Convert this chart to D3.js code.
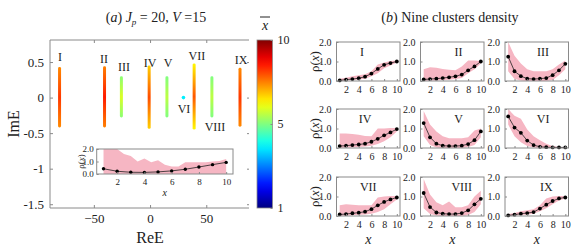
<!DOCTYPE html>
<html><head><meta charset="utf-8">
<script src="https://cdn.jsdelivr.net/npm/d3@7"></script>
<style>body{margin:0;background:#fff} svg text{font-family:"Liberation Serif","DejaVu Serif",serif !important;fill:#222}</style>
</head><body><svg id="c" width="581" height="248"></svg>
<script>
// ---------- Panel (a) data ----------
const clusterNames = ["I","II","III","IV","V","VI","VII","VIII","IX"];
const clusterRe     = [-80.5,-40.5,-25.5,-0.8,15,29.7,39.2,55,80];
const clusterImTop  = [0.43,0.44,0.30,0.45,0.30,0.025,0.48,0.30,0.42];
const clusterImBot  = [-0.42,-0.42,-0.28,-0.44,-0.28,-0.025,-0.45,-0.28,-0.41];
const clusterXbarMid = [8.2,8.5,5.9,8.0,5.6,3.6,7.9,5.6,8.2];
const clusterXbarEnd = [7.4,7.5,5.1,6.7,5.0,3.6,6.3,5.0,7.4];
const labelRe = [-80.1,-41,-23.2,0,16,30.2,41.7,57.8,80.9];
const labelIm = [0.571,0.543,0.43,0.487,0.487,-0.16,0.585,-0.414,0.529];
const reTicks = [-50,0,50];
const imTicks = [0.5,0,-0.5,-1,-1.5];
const cbTicks = [0,5,10];
const cbTickLabels = ["1","5","10"];

// inset (all clusters)
const insetX = [1,2,3,4,5,6,7,8,9,10];
const insetMean = [0.42,0.22,0.14,0.13,0.17,0.25,0.38,0.56,0.75,0.93];
const insetEnvX = [1,1.5,2,2.5,3,3.5,4,4.5,5,5.5,6,6.5,7,7.5,8,8.5,9,9.5,10];
const insetEnvHi = [2,2,2,1.6,1.45,1.0,1.25,0.95,1.1,0.75,0.6,0.6,0.95,0.95,0.95,0.95,1.0,1.05,1.2];

// ---------- Panel (b) data ----------
const xs = [1,2,3,4,5,6,7,8,9,10];
const meanI    = [0.03,0.07,0.1,0.14,0.22,0.38,0.62,0.83,0.92,1.0];
const meanII   = [0.08,0.1,0.12,0.15,0.19,0.24,0.33,0.55,0.75,1.0];
const meanIII  = [1.25,0.5,0.25,0.12,0.1,0.12,0.15,0.3,0.55,0.88];
const meanIV   = [0.1,0.12,0.15,0.18,0.22,0.32,0.47,0.65,0.8,0.97];
const meanV    = [1.28,0.55,0.22,0.12,0.1,0.1,0.12,0.2,0.4,0.85];
const meanVI   = [1.62,1.05,0.78,0.38,0.15,0.06,0.04,0.03,0.03,0.03];
const meanVII  = [0.08,0.1,0.14,0.17,0.22,0.35,0.55,0.72,0.85,0.95];
const meanVIII = [1.18,0.46,0.18,0.12,0.1,0.1,0.15,0.29,0.6,0.88];
const meanIX   = [0.03,0.07,0.12,0.15,0.2,0.38,0.58,0.77,0.9,0.95];

const hiI    = [0.12,0.17,0.25,0.3,0.35,0.5,0.85,0.95,1.02,1.05];
const loI    = [0,0.02,0.05,0.08,0.12,0.25,0.4,0.65,0.8,0.95];
const hiII   = [0.6,0.7,0.68,0.62,0.58,0.55,0.75,1.05,1.05,1.02];
const loII   = [0,0.02,0.03,0.05,0.07,0.1,0.15,0.4,0.6,0.9];
const hiIII  = [2.0,1.3,0.9,0.6,0.5,0.5,0.5,0.6,0.85,1.05];
const loIII  = [0.5,0.1,0.03,0,0,0,0,0.05,0.3,0.6];
const hiIV   = [0.75,0.75,0.72,0.68,0.62,0.6,1.0,1.0,1.02,1.02];
const loIV   = [0,0.02,0.03,0.05,0.08,0.12,0.2,0.35,0.55,0.85];
const hiV    = [1.9,1.2,0.85,0.6,0.5,0.5,0.5,0.55,0.9,1.0];
const loV    = [0.6,0.15,0.03,0,0,0,0,0.05,0.15,0.55];
const hiVI   = [2.0,1.65,1.5,0.95,0.6,0.4,0.22,0.1,0.05,0.04];
const loVI   = [1.2,0.6,0.3,0.1,0.02,0,0,0,0,0];
const hiVII  = [0.55,0.6,0.58,0.55,0.55,0.55,0.95,1.0,1.02,1.02];
const loVII  = [0,0.02,0.04,0.06,0.08,0.12,0.2,0.35,0.6,0.85];
const hiVIII = [1.9,1.1,0.7,0.55,0.75,0.45,0.45,0.55,1.0,1.3];
const loVIII = [0.4,0.1,0.02,0,0,0,0,0.05,0.2,0.6];
const hiIX   = [0.1,0.15,0.25,0.3,0.35,0.55,0.9,1.0,1.02,1.02];
const loIX   = [0,0.02,0.05,0.08,0.12,0.25,0.4,0.6,0.8,0.9];
const subLabelX = [4.5,6.5,6.5,5,6.5,6.5,5.5,7,7];
const smallXTicks = [2,4,6,8,10];
const smallYTicks = [0,1,2];

const means = [meanI,meanII,meanIII,meanIV,meanV,meanVI,meanVII,meanVIII,meanIX];
const his = [hiI,hiII,hiIII,hiIV,hiV,hiVI,hiVII,hiVIII,hiIX];
const los = [loI,loII,loIII,loIV,loV,loVI,loVII,loVIII,loIX];

// ---------- helpers ----------
const FONT = "Liberation Serif";
const svg = d3.select("#c");
const defs = svg.append("defs");
const axisCol = "#8a8a8a";
const pink = "#f6b6c3";
function jet(v){const t=v/10;const c=x=>Math.max(0,Math.min(1,x));
  return d3.rgb(255*c(1.5-Math.abs(4*t-3)),255*c(1.5-Math.abs(4*t-2)),255*c(1.5-Math.abs(4*t-1))).formatHex();}
function styleAxis(g){g.attr("font-family",FONT);g.select(".domain").remove();g.selectAll(".tick line").attr("stroke",axisCol);
  g.selectAll(".tick text").attr("fill","#333").attr("font-family",FONT);}

// ---------- Panel (a) main ----------
const mL=50,mR=249,mT=40,mB=208;
const xRe = d3.scaleLinear().domain([-89,88]).range([mL,mR]);
const yIm = d3.scaleLinear().domain([-1.553,0.81]).range([mB,mT]);
const ga = svg.append("g");
ga.append("g").attr("transform",`translate(0,${mB})`)
  .call(d3.axisBottom(xRe).tickValues(reTicks).tickSize(-3).tickPadding(6).tickFormat(d3.format("d")))
  .call(styleAxis).selectAll("text").style("font-size","13px");
ga.append("g").attr("transform",`translate(0,${mT})`)
  .call(d3.axisTop(xRe).tickValues(reTicks).tickSize(-3).tickFormat(""))
  .call(styleAxis);
ga.append("g").attr("transform",`translate(${mL},0)`)
  .call(d3.axisLeft(yIm).tickValues(imTicks).tickSize(-3).tickPadding(6).tickFormat(d=>d===0?"0":String(d)))
  .call(styleAxis).selectAll("text").style("font-size","13px");
ga.append("g").attr("transform",`translate(${mR},0)`)
  .call(d3.axisRight(yIm).tickValues(imTicks).tickSize(-2).tickFormat(""))
  .call(styleAxis);
ga.append("path").attr("d",`M${mR},${mT}H${mL}V${mB}H${mR}`).attr("fill","none").attr("stroke",axisCol).attr("stroke-width",1);

// columns
clusterNames.forEach((n,i)=>{
  const gid="cg"+i;
  const gr=defs.append("linearGradient").attr("id",gid).attr("x1",0).attr("y1",0).attr("x2",0).attr("y2",1);
  [[0,clusterXbarEnd[i]],[0.5,clusterXbarMid[i]],[1,clusterXbarEnd[i]]].forEach(s=>
    gr.append("stop").attr("offset",s[0]).attr("stop-color",jet(s[1])));
  const x=xRe(clusterRe[i]), y0=yIm(clusterImTop[i]), y1=yIm(clusterImBot[i]);
  if(n==="VI"){
    ga.append("circle").attr("cx",x).attr("cy",yIm(0)).attr("r",1.8).attr("fill",jet(clusterXbarMid[i]));
  } else {
    ga.append("rect").attr("x",x-1.5).attr("y",y0).attr("width",3).attr("height",y1-y0)
      .attr("rx",1.4).attr("fill",`url(#${gid})`);
  }
  ga.append("text").attr("x",xRe(labelRe[i])).attr("y",yIm(labelIm[i])).attr("dy","0.35em")
    .attr("text-anchor","middle").style("font-size","12px").text(n);
});

// inset
const iL=96.7,iR=233,iT=149,iB=174;
const xIn=d3.scaleLinear().domain([0.5,10.5]).range([iL,iR]);
const yIn=d3.scaleLinear().domain([0,2]).range([iB,iT]);
defs.append("clipPath").attr("id","clipIn").append("rect").attr("x",iL).attr("y",iT).attr("width",iR-iL).attr("height",iB-iT);
const gi=svg.append("g");
gi.append("rect").attr("x",iL).attr("y",iT).attr("width",iR-iL).attr("height",iB-iT).attr("fill","#fff");
gi.append("path").datum(insetEnvX.map((x,k)=>({x,hi:insetEnvHi[k]})))
  .attr("clip-path","url(#clipIn)").attr("fill",pink)
  .attr("d",d3.area().x(d=>xIn(d.x)).y0(yIn(0)).y1(d=>yIn(d.hi)));
gi.append("path").datum(insetX.map((x,k)=>({x,y:insetMean[k]})))
  .attr("fill","none").attr("stroke","#222").attr("stroke-width",0.8)
  .attr("d",d3.line().x(d=>xIn(d.x)).y(d=>yIn(d.y)));
gi.selectAll("circle.im").data(insetX.map((x,k)=>({x,y:insetMean[k]}))).join("circle")
  .attr("cx",d=>xIn(d.x)).attr("cy",d=>yIn(d.y)).attr("r",1.7).attr("fill","#000");
gi.append("g").attr("transform",`translate(0,${iB})`)
  .call(d3.axisBottom(xIn).tickValues(smallXTicks).tickSize(-2).tickPadding(5))
  .call(styleAxis).selectAll("text").style("font-size","9px");
gi.append("g").attr("transform",`translate(${iL},0)`)
  .call(d3.axisLeft(yIn).tickValues(smallYTicks).tickSize(-2).tickPadding(3))
  .call(styleAxis).selectAll("text").style("font-size","9px");
gi.append("rect").attr("x",iL).attr("y",iT).attr("width",iR-iL).attr("height",iB-iT).attr("fill","none").attr("stroke",axisCol);
gi.append("text").attr("x",(iL+iR)/2).attr("y",196).attr("text-anchor","middle").style("font-size","10px").style("font-style","italic").text("x");
gi.append("text").attr("transform",`translate(84,${(iT+iB)/2}) rotate(-90)`).attr("text-anchor","middle").style("font-size","9px")
  .html('ρ(<tspan font-style="italic">x</tspan>)');

// axis labels and title
svg.append("text").attr("x",150).attr("y",243).attr("text-anchor","middle").style("font-size","16px").text("ReE");
svg.append("text").attr("transform",`translate(19,124) rotate(-90)`).attr("text-anchor","middle").style("font-size","16px").text("ImE");
svg.append("text").attr("x",156).attr("y",22).attr("text-anchor","middle").style("font-size","14px")
  .html('(<tspan font-style="italic">a</tspan>) <tspan font-style="italic">J</tspan><tspan font-style="italic" font-size="9px" dy="3">p</tspan><tspan dy="-3"> = 20,  </tspan><tspan font-style="italic">V</tspan> =15');

// colorbar
const cL=257,cR=272.5,cT=40,cB=208;
const yCb=d3.scaleLinear().domain([0,10]).range([cB,cT]);
const cg=defs.append("linearGradient").attr("id","cbg").attr("x1",0).attr("y1",1).attr("x2",0).attr("y2",0);
d3.range(0,10.01,0.5).forEach(v=>cg.append("stop").attr("offset",v/10).attr("stop-color",jet(v)));
svg.append("rect").attr("x",cL).attr("y",cT).attr("width",cR-cL).attr("height",cB-cT).attr("fill","url(#cbg)").attr("stroke",axisCol).attr("stroke-width",0.8);
const cba=svg.append("g").attr("transform",`translate(${cR},0)`)
  .call(d3.axisRight(yCb).tickValues(cbTicks).tickSize(-2).tickPadding(5).tickFormat((d,k)=>cbTickLabels[k]))
  .call(styleAxis);
cba.selectAll("text").style("font-size","12px");
svg.append("text").attr("x",265).attr("y",30).attr("text-anchor","middle").style("font-size","14px").style("font-style","italic").text("x");
svg.append("line").attr("x1",260).attr("x2",270).attr("y1",17).attr("y2",17).attr("stroke","#222").attr("stroke-width",1);

// ---------- Panel (b) ----------
svg.append("text").attr("x",450).attr("y",22).attr("text-anchor","middle").style("font-size","14px")
  .html('(<tspan font-style="italic">b</tspan>) Nine clusters density');
const colL=[336.5,420.5,505], rowT=[42,109,177], W=63.5, H=39;
clusterNames.forEach((n,i)=>{
  const L=colL[i%3], T=rowT[Math.floor(i/3)];
  const x=d3.scaleLinear().domain([0.5,10.5]).range([L,L+W]);
  const y=d3.scaleLinear().domain([0,2]).range([T+H,T]);
  const g=svg.append("g");
  defs.append("clipPath").attr("id","cp"+i).append("rect").attr("x",L).attr("y",T).attr("width",W).attr("height",H);
  const band=xs.map((v,k)=>({x:v,lo:los[i][k],hi:his[i][k]}));
  g.append("path").datum(band).attr("clip-path",`url(#cp${i})`).attr("fill",pink)
    .attr("d",d3.area().x(d=>x(d.x)).y0(d=>y(d.lo)).y1(d=>y(d.hi)));
  const pts=xs.map((v,k)=>({x:v,y:means[i][k]}));
  g.append("path").datum(pts).attr("fill","none").attr("stroke","#222").attr("stroke-width",0.8)
    .attr("d",d3.line().x(d=>x(d.x)).y(d=>y(d.y)));
  g.selectAll("circle").data(pts).join("circle").attr("cx",d=>x(d.x)).attr("cy",d=>y(d.y)).attr("r",1.9).attr("fill","#000");
  g.append("g").attr("transform",`translate(0,${T+H})`)
    .call(d3.axisBottom(x).tickValues(smallXTicks).tickSize(-2).tickPadding(5))
    .call(styleAxis).selectAll("text").style("font-size","10px");
  g.append("g").attr("transform",`translate(${L},0)`)
    .call(d3.axisLeft(y).tickValues(smallYTicks).tickSize(-2).tickPadding(5))
    .call(styleAxis).selectAll("text").style("font-size","10px");
  g.append("rect").attr("x",L).attr("y",T).attr("width",W).attr("height",H).attr("fill","none").attr("stroke",axisCol);
  g.append("text").attr("x",x(subLabelX[i])).attr("y",y(1.48)).attr("dy","0.35em").attr("text-anchor","middle")
    .style("font-size","12px").text(n);
  if(i%3===0){
    g.append("text").attr("transform",`translate(319,${T+H/2}) rotate(-90)`).attr("text-anchor","middle").style("font-size","13px")
      .html('ρ(<tspan font-style="italic">x</tspan>)');
  }
  if(i>=6){
    g.append("text").attr("x",L+W/2).attr("y",244).attr("text-anchor","middle").style("font-size","14px").style("font-style","italic").text("x");
  }
});
</script></body></html>
